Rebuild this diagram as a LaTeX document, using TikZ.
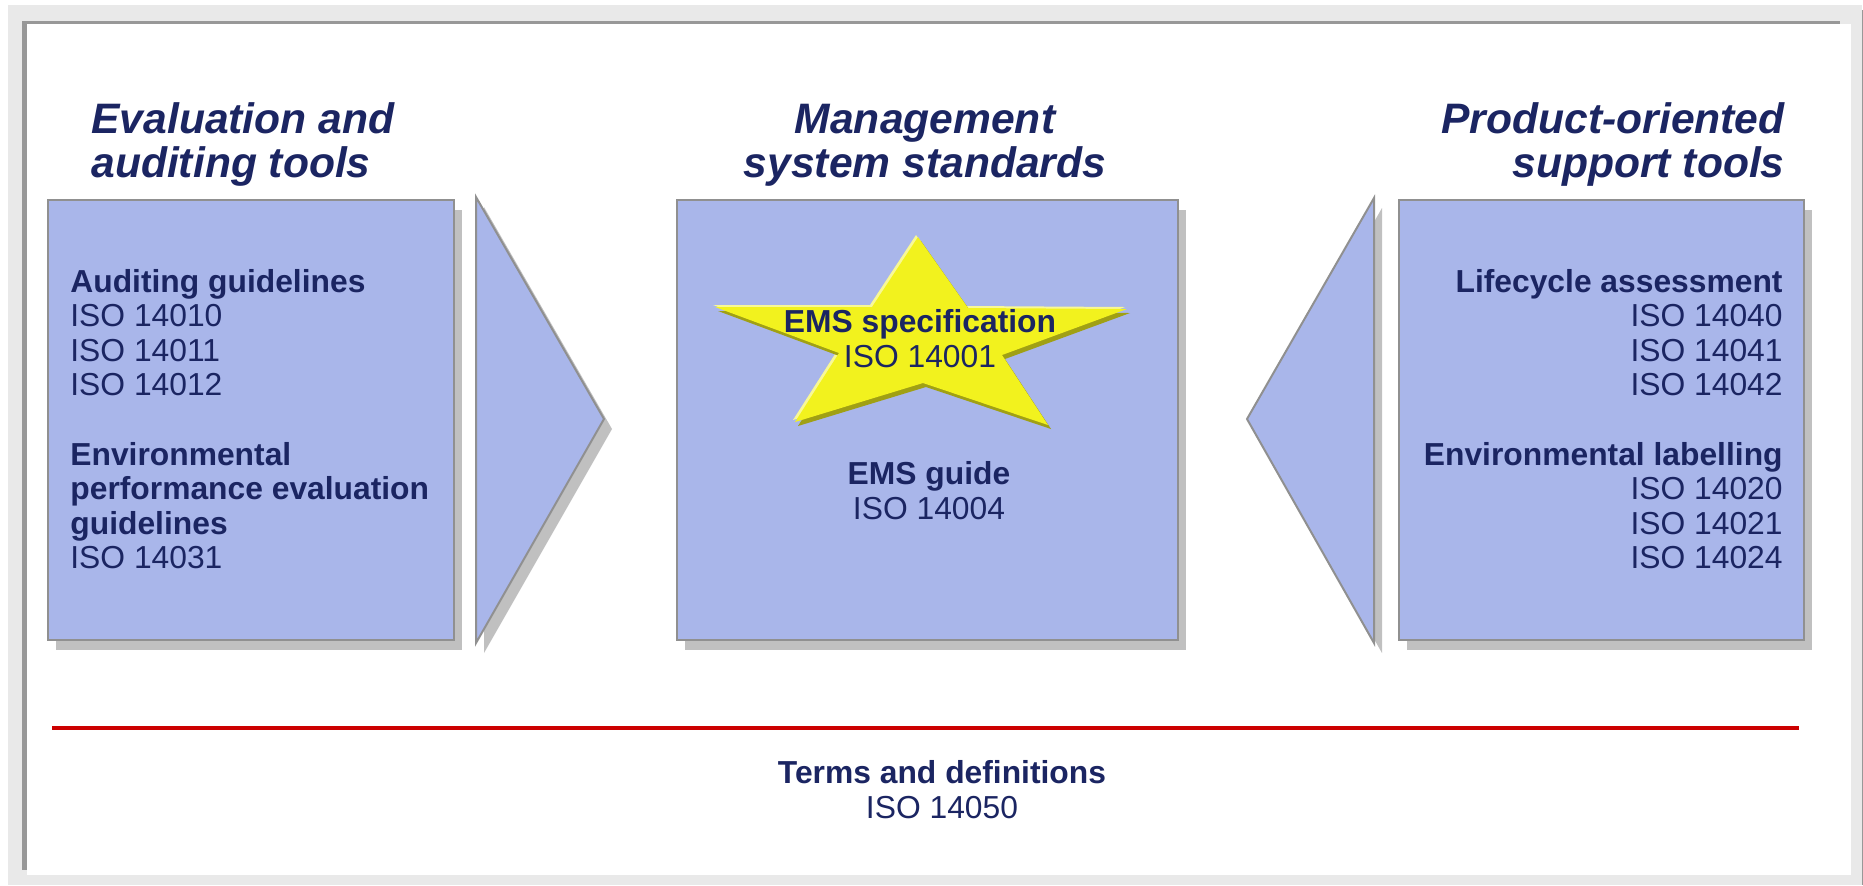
\documentclass[tikz,border=0pt]{standalone}
\usepackage{fontspec}
\setmainfont{Liberation Sans}
\definecolor{navy}{RGB}{27,37,98}
\definecolor{boxblue}{RGB}{169,182,234}
\definecolor{edgegray}{RGB}{144,144,144}
\definecolor{shadowgray}{RGB}{192,192,192}
\definecolor{bggray}{RGB}{233,233,233}
\definecolor{framegray}{RGB}{152,152,152}
\definecolor{staryellow}{RGB}{242,242,30}
\definecolor{starshadow}{RGB}{160,160,20}
\definecolor{starlight}{RGB}{248,248,150}
\definecolor{rulered}{RGB}{204,0,0}
\begin{document}
\begin{tikzpicture}[x=0.5pt,y=-0.5pt,
  body/.style={font=\fontsize{15.9}{17.3}\selectfont, text=navy, inner sep=0pt},
  head/.style={font=\fontsize{15.9}{17.3}\selectfont\bfseries, text=navy, inner sep=0pt},
  ttl/.style={font=\fontsize{21.3}{22}\selectfont\bfseries\itshape, text=navy, inner sep=0pt},
  panel/.style={fill=boxblue, draw=edgegray, line width=1pt},
  shade/.style={fill=shadowgray}]
\useasboundingbox (0,0) rectangle (1863,885);
% frame
\fill[bggray] (8,5) rectangle (1862,885);
\fill[framegray] (1862,10) rectangle (1863,885);
\fill[white] (27,24) rectangle (1851,875);
\fill[framegray] (22,21) rectangle (27,870);
\fill[framegray] (22,21) rectangle (1840,24);
% titles
\node[ttl, anchor=base west] (t1a) at (91,133) {Evaluation and};
\node[ttl, anchor=base west] (t1b) at (91,177) {auditing tools};
\node[ttl, anchor=base] (t2a) at (925,133) {Management};
\node[ttl, anchor=base] (t2b) at (925,177) {system standards};
\node[ttl, anchor=base east] (t3a) at (1785,133) {Product-oriented};
\node[ttl, anchor=base east] (t3b) at (1785,177) {support tools};
% shadows
\fill[shade] (56,210) rectangle (462,650);
\fill[shade] (685,210) rectangle (1186,650);
\fill[shade] (1407,210) rectangle (1812,650);
\fill[shade] (484,207) -- (612,429) -- (484,653) -- cycle;
\fill[shade] (1382,208) -- (1255,429) -- (1382,653) -- cycle;
% panels
\draw[panel] (48,200) rectangle (454,640);
\draw[panel] (677,200) rectangle (1178,640);
\draw[panel] (1399,200) rectangle (1804,640);
\draw[panel, line join=miter] (476,197) -- (604,419) -- (476,643) -- cycle;
\draw[panel, line join=miter] (1374,198) -- (1247,419) -- (1374,643) -- cycle;
% star
\foreach \dx/\dy/\col in {-2/-2/starlight, 3/4/starshadow, 0/0/staryellow}{
  \fill[\col, shift={(\dx,\dy)}] (918,237) -- (968,308) -- (1127,309) -- (1002,355)
     -- (1048,425) -- (923,383) -- (795,422) -- (839,353) -- (715,307) -- (872,307) -- cycle;
}
% left column
\node[head, anchor=base west] (l0) at (70,292) {Auditing guidelines};
\node[body, anchor=base west] (l1) at (70,326.6) {ISO 14010};
\node[body, anchor=base west] (l2) at (70,361.2) {ISO 14011};
\node[body, anchor=base west] (l3) at (70,395.8) {ISO 14012};
\node[head, anchor=base west] (l5) at (70,465) {Environmental};
\node[head, anchor=base west] (l6) at (70,499.6) {performance evaluation};
\node[head, anchor=base west] (l7) at (70,534.2) {guidelines};
\node[body, anchor=base west] (l8) at (70,568.8) {ISO 14031};
% right column
\node[head, anchor=base east] (r0) at (1783,292) {Lifecycle assessment};
\node[body, anchor=base east] (r1) at (1783,326.6) {ISO 14040};
\node[body, anchor=base east] (r2) at (1783,361.2) {ISO 14041};
\node[body, anchor=base east] (r3) at (1783,395.8) {ISO 14042};
\node[head, anchor=base east] (r5) at (1783,465) {Environmental labelling};
\node[body, anchor=base east] (r6) at (1783,499.6) {ISO 14020};
\node[body, anchor=base east] (r7) at (1783,534.2) {ISO 14021};
\node[body, anchor=base east] (r8) at (1783,568.8) {ISO 14024};
% center
\node[head, anchor=base] (c0) at (920,332) {EMS specification};
\node[body, anchor=base] (c1) at (920,367) {ISO 14001};
\node[head, anchor=base] (c2) at (929,484) {EMS guide};
\node[body, anchor=base] (c3) at (929,519) {ISO 14004};
% rule and bottom text
\coordinate (ruleL) at (52,728);
\coordinate (ruleR) at (1799,728);
\draw[rulered, line width=2.4pt] (ruleL) -- (ruleR);
\node[head, anchor=base] (b0) at (942,783) {Terms and definitions};
\node[body, anchor=base] (b1) at (942,818) {ISO 14050};
\end{tikzpicture}
\end{document}
